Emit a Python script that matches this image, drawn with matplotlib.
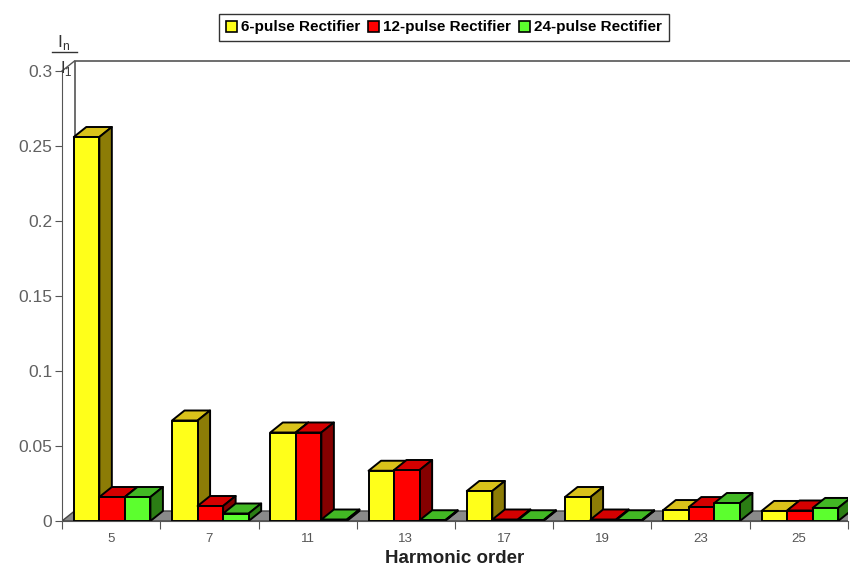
import matplotlib.pyplot as plt
from matplotlib.patches import Polygon, Patch
from matplotlib.lines import Line2D
import numpy as np

plt.rcParams['font.family'] = ['Liberation Sans', 'DejaVu Sans']

# harmonic spectrum I_n/I_1 for the three rectifier types
orders = ['5', '7', '11', '13', '17', '19', '23', '25']
pulse6 = [0.256, 0.067, 0.059, 0.0335, 0.020, 0.016, 0.0073, 0.0067]
pulse12 = [0.016, 0.010, 0.059, 0.034, 0.001, 0.001, 0.0093, 0.007]
pulse24 = [0.016, 0.005, 0.001, 0.0005, 0.0005, 0.0005, 0.012, 0.0087]
series_names = ['6-pulse Rectifier', '12-pulse Rectifier', '24-pulse Rectifier']

# front / top / side shades
shades = [('#ffff1a', '#d9c21a', '#8c7c06'),
          ('#ff0000', '#d40000', '#850000'),
          ('#5cff2e', '#42b824', '#2b7d14')]

fig = plt.figure(figsize=(8.5, 5.69), dpi=100)
W, H = 850.0, 569.0
ax = fig.add_axes([62 / W, (H - 521) / H, 786 / W, 450 / H])
ax.set_xlim(0, 8)
ax.set_ylim(0, 0.3)

dx = 12.5 / 98.25   # depth offset in data units
dy = 10.0 / 1500.0

# back wall + floor
ax.add_patch(Polygon([(0, 0), (8, 0), (8 + dx, dy), (dx, dy)], closed=True,
                     facecolor='#8a8a8a', edgecolor='#444444', lw=1, zorder=1))
ax.plot([dx, dx, 8.2], [dy, 0.3 + dy, 0.3 + dy], color='#555555', lw=1.2,
        clip_on=False, zorder=1)
ax.plot([0, dx], [0.3, 0.3 + dy], color='#555555', lw=1, clip_on=False, zorder=1)

bw = 0.26
start = 0.12
for gi in range(len(orders)):
    vals = [pulse6[gi], pulse12[gi], pulse24[gi]]
    for si, v in enumerate(vals):
        x0 = gi + start + si * bw
        front, top, side = shades[si]
        z = 2 + si
        ax.add_patch(Polygon([(x0, 0), (x0 + bw, 0), (x0 + bw, v), (x0, v)],
                             facecolor=front, edgecolor='black', lw=1.4,
                             joinstyle='round', zorder=z + 0.5))
        ax.add_patch(Polygon([(x0, v), (x0 + bw, v), (x0 + bw + dx, v + dy), (x0 + dx, v + dy)],
                             facecolor=top, edgecolor='black', lw=1.4,
                             joinstyle='round', zorder=z))
        ax.add_patch(Polygon([(x0 + bw, 0), (x0 + bw + dx, dy), (x0 + bw + dx, v + dy), (x0 + bw, v)],
                             facecolor=side, edgecolor='black', lw=1.4,
                             joinstyle='round', zorder=z))

for s in ['top', 'right']:
    ax.spines[s].set_visible(False)
ax.spines['left'].set_color('#555555')
ax.spines['bottom'].set_color('#555555')
ax.spines['left'].set_zorder(10)
ax.spines['bottom'].set_zorder(10)

ax.set_yticks(np.arange(0, 0.31, 0.05))
ax.set_yticklabels(['0', '0.05', '0.1', '0.15', '0.2', '0.25', '0.3'])
ax.tick_params(axis='y', direction='out', length=5, color='#555555',
               labelsize=12.5, labelcolor='#606060', pad=2)
ax.set_xticks(np.arange(0, 9))
ax.set_xticklabels([])
ax.set_xticks(np.arange(len(orders)) + 0.5, minor=True)
ax.set_xticklabels(orders, minor=True)
ax.tick_params(axis='x', which='major', direction='out', length=6, color='#555555')
ax.tick_params(axis='x', which='minor', length=0, labelsize=9.5,
               labelcolor='#555555', pad=9)
ax.set_xlabel('Harmonic order', fontsize=13.5, fontweight='bold', labelpad=3,
              color='#222222')

# I_n / I_1 label
fig.text(64 / W, 1 - 42 / H, r'I$_\mathregular{n}$', ha='center', va='center',
         fontsize=12.5, color='#333333')
fig.add_artist(Line2D([52 / W, 77 / W], [1 - 52 / H, 1 - 52 / H],
                      color='#333333', lw=1))
fig.text(66 / W, 1 - 68 / H, r'I$_\mathregular{1}$', ha='center', va='center',
         fontsize=12, color='#333333')

handles = [Patch(facecolor=shades[i][0], edgecolor='black', lw=1.2) for i in range(3)]
leg = fig.legend(handles, series_names, ncol=3, loc='center',
                 bbox_to_anchor=(444 / W, 1 - 27.5 / H),
                 prop={'weight': 'bold', 'size': 11},
                 handlelength=0.7, handleheight=0.7, handletextpad=0.25,
                 columnspacing=0.55, borderpad=0.45, fancybox=False,
                 edgecolor='#333333', framealpha=1)
leg.get_frame().set_linewidth(1)

fig.savefig('out.png', dpi=100)
